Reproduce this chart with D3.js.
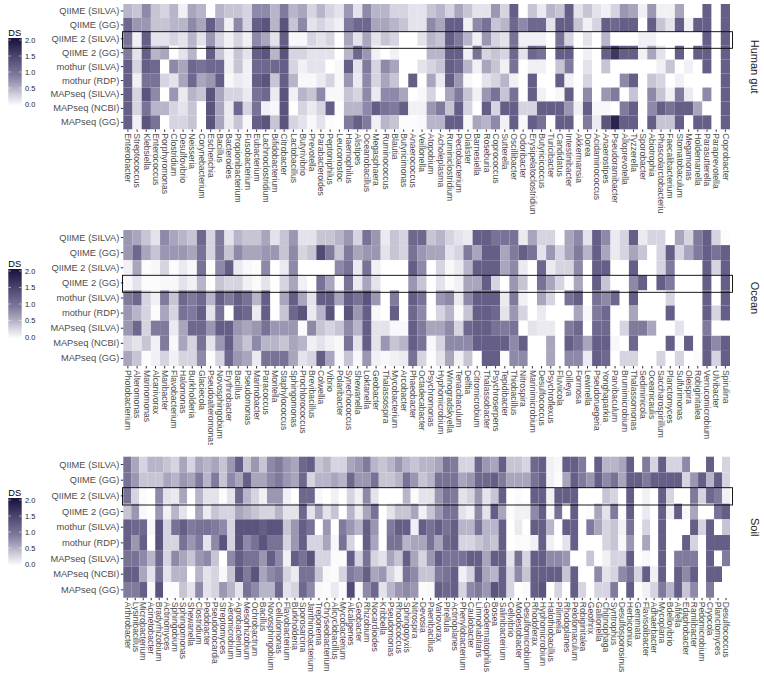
<!DOCTYPE html>
<html>
<head>
<meta charset="utf-8">
<script src="https://cdn.jsdelivr.net/npm/d3@7"></script>
<style>
  body { margin: 0; background: #fff; }
  text { font-family: "Liberation Sans", Arial, sans-serif; }
</style>
</head>
<body>
<svg id="chart" width="764" height="678"></svg>
<script>
const methods = ["QIIME (SILVA)", "QIIME (GG)", "QIIME 2 (SILVA)", "QIIME 2 (GG)", "mothur (SILVA)", "mothur (RDP)", "MAPseq (SILVA)", "MAPseq (NCBI)", "MAPseq (GG)"];
const legendTicks = [0, 0.5, 1, 1.5, 2];

const gutTaxa = ["Enterobacter","Streptococcus","Klebsiella","Enterococcus","Porphyromonas","Clostridium","Desulfovibrio","Neisseria","Corynebacterium","Escherichia","Bacillus","Bacteroides","Propionibacterium","Fusobacterium","Eubacterium","Lachnoclostridium","Bifidobacterium","Citrobacter","Lactobacillus","Butyrivibrio","Prevotella","Parabacteroides","Peptoniphilus","Leuconostoc","Haemophilus","Alistipes","Oceanobacillus","Megasphaera","Ruminococcus","Blautia","Butyricimonas","Anaerococcus","Veillonella","Atopobium","Acholeplasma","Ruminiclostridium","Pectobacterium","Dialister","Barnesiella","Roseburia","Coprococcus","Sutterella","Oscillibacter","Odoribacter","Erysipelatoclostridium","Butyricicoccus","Turicibacter","Candidatus","Intestinibacter","Akkermansia","Dorea","Acidaminococcus","Anaerostipes","Pseudoramibacter","Alloprevotella","Tyzzerella","Sporobacter","Abiotrophia","Phascolarctobacterium","Faecalibacterium","Stomatobaculum","Megamonas","Holdemanella","Parasutterella","Paraprevotella","Coprobacter"];
const oceanTaxa = ["Photobacterium","Alteromonas","Marinomonas","Alcanivorax","Maribacter","Flavobacterium","Halomonas","Burkholderia","Glaciecola","Pseudoalteromonas","Novosphingobium","Erythrobacter","Bacillus","Pseudomonas","Marinobacter","Paracoccus","Moritella","Staphylococcus","Sphingomonas","Prochlorococcus","Brevibacillus","Colwellia","Vibrio","Polaribacter","Synechococcus","Shewanella","Loktanella","Geobacter","Thalassospira","Mycobacterium","Arcobacter","Phaeobacter","Octadecabacter","Psychromonas","Hyphomicrobium","Winogradskyella","Tenacibaculum","Delftia","Citromicrobium","Thalassobacter","Psychroserpens","Tepidibacter","Thiobacillus","Nitrospira","Marinimicrobium","Desulfococcus","Psychroflexus","Fluviicola","Oilleya","Formosa","Lewinella","Pseudoruegeria","Yonghaparkia","Parvibaculum","Brumimicrobium","Thalassomonas","Sediminicola","Oceanicaulis","Saccharospirillum","Planctomyces","Sulfurimonas","Oleispira","Robiginitalea","Verrucomicrobium","Ulvibacter","Spirulina"];
const soilTaxa = ["Arthrobacter","Lysinibacillus","Microbacterium","Acinetobacter","Bradyrhizobium","Actinomyces","Sphingobium","Sphingomonas","Shewanella","Clostridium","Pedobacter","Pseudonocardia","Streptomyces","Aeromicrobium","Agrobacterium","Mesorhizobium","Ochrobactrum","Bacillus","Novosphingobium","Cellulomonas","Flavobacterium","Burkholderia","Sporosarcina","Janthinobacterium","Treponema","Chryseobacterium","Alicyclobacillus","Mycobacterium","Alcaligenes","Geobacter","Rhizobium","Nocardioides","Kribbella","Pseudomonas","Rhodococcus","Sphingopyxis","Nitrospira","Devosia","Paenibacillus","Variovorax","Pirellula","Actinoplanes","Phenylobacterium","Caulobacter","Limnohabitans","Geodermatophilus","Bosea","Salinibacterium","Cellvibrio","Modestobacter","Desulfomicrobium","Rhodoferax","Hyphomicrobium","Halothiobacillus","Pilimelia","Rhodoplanes","Pelotomaculum","Robiginitalea","Geothrix","Gallionella","Chitinophaga","Syntrophus","Desulfosporosinus","Herbiconiux","Gemmata","Flavisolibacter","Adhaerbacter","Mycoplana","Bdellovibrio","Afifella","Edaphobacter","Ramlibacter","Pedomicrobium","Cryocola","Planctomyces","Desulfococcus"];

// one row per method, same order as methods
const gutValues = [
[.5,.4,.8,.4,.3,.5,.1,.6,.5,0,.5,.4,.4,.3,.8,.8,.5,.9,.5,.6,.3,.5,.3,.2,.7,.2,.8,.5,.5,.3,.3,.2,.2,.4,.5,.3,.6,.4,.2,.2,.7,.3,1.2,0,.4,.15,.5,.4,1.2,.2,.4,.2,.1,.3,.7,.6,.1,.7,.1,.1,.6,0,0,1.2,0,1.2],
[1.1,.7,.7,.4,.4,.5,.5,.8,.6,1.2,.7,.1,.8,.3,1.2,1.3,.5,1.3,.4,.8,.2,.3,.2,.1,.9,1.1,1.1,.6,.6,.5,.4,.2,.2,.8,.6,1.2,1.2,.1,.8,1,.4,.5,1.1,.8,1.1,1.1,.2,1.2,1.2,.4,.1,.3,1.2,1.1,1.2,1.2,0,1.2,.4,.2,1.2,.1,1.2,1.2,0,1.2],
[1,.1,1.2,.2,.2,.3,.2,.5,.2,.7,.3,.1,.3,.1,.8,.6,.2,1.2,.05,.05,.3,.2,.3,0,.6,.2,.6,.2,.4,.3,0,0,.2,.5,.4,1.2,.9,.5,.1,.7,.3,.2,1,.1,.1,.1,0,1,.3,0,.2,0,.5,0,0,0,.1,.1,0,0,0,0,0,1.2,0,1.2],
[.9,.2,1.2,.5,.6,0,.2,.5,0,1.2,.4,.1,.4,.2,1.2,1.3,.5,1.3,.3,.3,.2,.2,.2,0,.5,1.1,.7,.1,0,.1,0,0,0,.5,.5,1.2,1.2,.1,1,.3,.4,.3,1.1,.2,1.1,1,0,1.2,1.2,0,.1,0,1.2,1.6,1.2,1.2,.1,.6,.2,0,1.2,0,1.2,1.2,0,1.2],
[1.2,.3,1.2,1.1,0,.8,.6,1.1,1,1.1,1.1,.1,.4,.1,1.1,1.1,1.1,1.2,.3,.1,.2,.2,0,.05,1.2,.2,.9,.3,.8,.6,0,0,.2,.3,.4,1.2,1.1,.5,.1,.6,.4,.1,1,0,.1,.1,0,.4,.9,0,.2,0,.4,0,0,0,0,0,.1,.4,0,.1,0,1.2,0,1.2],
[1.2,.1,1,1,.3,.2,.6,1.1,.6,.7,1.2,.05,.15,.1,1.2,1.3,.4,1.2,.5,.05,.05,.15,.3,.05,.7,.15,.8,.3,.6,.4,0,1.2,0,.6,.15,1.2,.7,.05,0,.2,.3,.5,.1,0,1.2,0,0,1.2,.1,0,.3,0,0,0,.8,1.2,0,.4,.3,0,.1,0,0,0,0,1.2],
[1.2,.3,1.3,.8,0,.7,.15,.5,.4,1.3,.6,.3,.3,.15,1,1.1,.15,1.3,.1,.5,.4,.8,.05,.05,.4,.3,.8,.15,.8,.8,.6,0,.05,.3,0,.6,.9,.4,.1,.7,1,.4,1,0,1.2,.1,0,.05,1.2,0,.8,0,.7,.9,0,.4,0,.8,.4,.1,.9,.15,0,.8,0,1.2],
[1.2,.3,1,.5,.5,.3,.2,.4,0,1.3,.6,.15,1.1,.3,1,.1,.05,1.3,0,.3,.15,.3,1.2,.02,.5,.5,.8,1.2,1,.9,1.2,.1,.1,.7,.9,.4,1.2,.3,0,1.2,.3,1.2,1.2,.3,.3,1.2,1.2,1.2,.7,.1,1.2,.05,.05,0,.9,1.2,0,.8,1.2,1,1.2,1.2,.6,0,0,1.2],
[1.2,.1,1.3,1,0,.3,.3,.4,0,1.3,.6,.15,.4,.05,1.2,1.3,.4,1.3,.3,.2,.05,.2,.02,0,.9,1.2,.9,.1,.5,.4,.02,.02,.05,.5,.5,1.2,1.2,.05,.6,.5,.8,.1,1.2,.05,1.2,1,0,1.2,1.2,0,.9,.15,1.3,1.8,1.2,1.2,0,1.2,.4,.4,1.2,0,1.2,1.2,0,1.2]
];
const oceanValues = [
[.7,.6,.4,.2,.8,.6,.5,.4,1.1,.3,.9,.2,.5,.4,.4,.6,.2,.4,.7,.2,.2,.4,.4,.5,.7,.3,1,.7,.15,.4,.3,1.1,1.1,.4,.5,.3,.2,.15,1.2,1.2,1,1,1,.15,.6,.3,.3,.02,.6,.8,.2,1.2,.8,.15,.3,1.2,.15,.3,.3,0,.6,.3,.9,1.2,.3,.02],
[.7,1.1,.6,.4,.7,.7,.7,.6,1,.3,.9,.4,.8,.6,.6,.7,.7,.4,.8,.3,.4,1.4,.9,.4,.9,.6,.7,.7,.2,.4,.3,1,.7,.6,.6,.2,.3,.9,.6,1.2,1.2,.6,.9,1.2,1,.2,.7,.3,.6,.9,.5,1.2,.6,.15,.3,.6,.4,0,.3,1.2,.3,.6,.9,1.2,1,1.2],
[.1,.6,.02,.05,.3,.02,.15,.05,1,.02,.8,1.2,.15,.05,.02,.8,0,.15,.8,0,0,0,0,.8,1,.15,1,.1,0,0,0,1.2,.8,0,.3,.05,.15,.5,1.2,1.2,1.2,.6,.8,.15,0,1.1,.15,.3,.3,.8,0,1.2,1.2,0,0,1.2,0,0,.3,.9,0,0,0,1.2,.3,1.2],
[.05,.2,.02,.02,.05,.05,.2,.1,.5,0,.4,.3,.3,.1,.03,.2,0,.3,.6,.1,0,1,.6,.03,1,.15,.6,.2,0,0,0,.7,.4,0,.2,.03,.1,.6,.6,1.2,.3,0,.7,.4,0,1,.6,.3,.03,.6,0,1.2,.4,0,0,.8,1.2,0,1.2,.9,0,0,0,1.2,0,1.2],
[.9,1.1,.3,.1,.9,.4,1.1,.9,1.1,.5,1.2,.9,1.2,1,.5,1.2,0,.6,1.2,.6,.2,1.2,1.2,.6,1.2,1,1.3,.7,0,.9,0,1.2,1,0,.7,.8,.15,.8,1.2,1.2,1.2,.15,.9,.1,0,.6,.3,0,1,1.2,0,1,.8,1.1,0,1.2,0,0,0,.3,0,0,0,1.2,0,1.2],
[.7,.5,.3,.02,.6,.3,1,.9,1.2,.2,1,0,1.2,1.1,.15,1.2,0,.4,1.1,1.3,.15,.5,1.3,0,1.3,.7,1.2,.05,0,1.2,0,1.1,.8,0,.3,.5,.03,.4,1.2,1.2,1.1,.2,.7,.3,0,.15,0,0,0,.6,.05,.9,1.1,0,0,.6,0,0,0,1.2,0,0,0,1.2,.3,1.2],
[.7,1.1,.3,.9,.9,.15,.6,1.1,1.1,.7,1.2,1.2,.7,.6,.7,1,.7,.7,.7,.03,.8,.4,.3,.4,.8,.5,1.2,.2,.2,.05,.05,1.2,.9,.6,.6,.8,.3,1.1,1.2,1.2,1,.9,1,0,.2,.15,.15,0,.9,1.1,0,1.1,1.1,0,.3,.9,.9,.6,0,0,.2,0,0,.9,0,0],
[.3,.2,.4,.1,.9,.05,.6,.3,1,.2,.7,1.2,.6,.4,.8,.5,.5,.4,.6,.5,.1,.2,.1,.05,1,.2,1.2,.2,.7,.4,.5,1.2,1,.05,.3,.8,.8,.8,1.2,1.2,1.2,1.2,.8,1.2,0,0,.6,0,1.2,1,.6,1.2,1.2,.05,0,1.1,0,0,0,1.2,.02,1.2,0,1.2,.8,1.2],
[.6,.4,.02,.1,.3,.1,.3,.3,.8,.02,.3,1.1,.7,.6,.15,1,1,1,.6,.2,.3,1.2,.6,.05,.4,.05,.7,.1,.05,.1,.15,1,.3,.02,.2,.6,.1,.4,0,1.2,1.2,.02,.8,.8,0,0,.6,0,.8,.8,.15,1.2,1.1,0,.3,.3,0,0,.3,0,.3,0,.03,1.2,.3,1.2]
];
const soilValues = [
[1,.6,.3,.5,.5,.4,.3,.6,.3,.6,.5,.6,.4,.7,1.2,.4,.7,.4,.8,.9,.7,.6,1.1,1.2,.4,.5,.3,.3,.6,.7,.9,.5,.4,.5,.7,.5,.4,.5,.5,.6,1,.9,.3,.3,1.1,.7,.6,1.2,.4,.4,.3,1.1,1.2,.1,.05,1.2,1.2,.9,0,1.2,.5,.5,.6,1.2,0,.9,.3,1.2,.3,.3,.8,0,0,1.2,0,.3],
[1,.7,.4,.4,.4,.6,.5,.7,.6,.9,.5,.9,.4,.8,.6,1.2,.6,.6,.8,.9,.7,.6,1.1,.3,.5,.5,.6,.5,1.1,.7,.7,1,.4,.4,.5,1,.7,.4,.5,1,1,1,.6,.7,1.1,1.1,1.2,.9,.6,.6,.6,1,1.2,.1,.02,.6,1.2,.9,.7,1.2,.8,1,.6,1.2,1.2,.9,1.2,1.2,1.2,1.2,.3,.7,1.2,.5,1.2,.3],
[1,.3,.03,0,.8,.2,.15,.6,0,.5,.2,.2,.02,.2,1.1,.5,.3,.1,.7,.7,.1,0,1.1,1.1,.05,0,.1,0,.3,.1,.8,.2,0,0,0,.5,.03,.2,.2,.7,1,.9,.2,.3,.7,.2,.4,1.2,0,.03,0,1.2,1.2,.1,1.2,1.2,1.2,0,0,0,.4,.3,0,1.2,0,.1,0,1.2,.3,0,0,.9,.3,1.1,.9,.1],
[.4,.7,.05,0,.7,.1,.5,.2,0,.6,.15,.4,.3,.3,.6,.5,.4,.3,.3,.5,.2,.2,1.1,.2,.6,.2,.4,0,.5,.15,.6,1,0,.2,.4,.4,.6,.1,.4,.7,1,1,.2,.1,.8,.2,1.2,.6,.03,.1,.1,.8,1.2,.05,1,0,1.2,0,.03,.6,.2,.9,.03,1.2,0,.15,0,1.2,.1,1.2,.05,.6,0,0,1,1.2],
[1.2,1.1,1.1,.05,1.3,.3,1,1.2,.9,1,1,.9,.8,.3,1.3,1.3,1.3,1.2,1.3,1.3,.4,.7,1.2,1,0,.7,0,.9,.7,.5,1.2,.7,0,.9,1.2,1.2,.1,1.2,1,1.2,1,1.2,.5,.5,1,.5,.5,1.2,0,.15,0,1.2,1.2,.5,0,1.2,1.2,0,.9,.6,.3,.4,.1,1,0,.3,0,1.2,0,0,0,1.2,.3,1.2,0,.4],
[1.2,.7,1.2,0,1.3,.3,.3,1,.7,.9,.2,.8,1.3,.3,1.3,.8,1,1.3,1,1,.3,.7,1.2,.3,.3,.6,.05,1,.3,0,1.2,.6,0,1,1,.5,.6,.6,1,.6,1.1,1.2,.3,.3,.4,.5,.4,1.2,0,.03,.03,.1,1.2,.1,0,.2,1.2,0,0,0,.3,.4,.05,.7,0,.6,0,1.2,0,0,1.2,.3,0,1.2,1.2,1.2],
[1,1,.8,.5,1.1,.3,.8,.6,.4,.7,.8,.4,0,.8,1.2,1,1,.7,1.2,.8,.1,1.2,1,1.3,.3,.3,.03,.03,1.2,.3,1,.3,.2,.6,.4,1.2,.6,.3,.7,1.2,1,1,1,1.2,1.2,.6,1.2,1.2,.2,1,.3,1.2,1.2,.8,.8,.7,0,0,.4,0,.1,.3,.3,1.2,0,.05,0,1.2,0,.9,.9,.9,0,1.2,0,.9],
[1.2,1.2,.6,.2,1,.2,.5,.5,0,.5,.2,.3,.05,.4,1.3,.9,1.3,.6,.8,.9,.3,.15,1,1,.4,.05,.03,.3,.9,.8,1.2,.6,.7,.3,.1,1,.8,.4,.4,.9,1,1.2,.1,.3,1.2,.6,.5,1.2,.3,.8,.4,1.2,1.2,1.2,1.2,.4,1.2,0,0,.8,.2,.3,.8,1,.3,1.2,.1,1.2,0,1.2,.8,1.2,0,1.2,1.2,0],
[.9,.9,1.2,.05,1.3,.03,.02,.4,.2,.8,.2,.3,.7,.5,.2,1,.8,.5,.5,1.1,.2,.3,1.1,.8,.05,.03,.15,.03,1.4,.05,.8,1.1,.2,.5,.7,.8,.7,.03,.05,1.2,1.1,1.2,.3,.8,.9,.7,1.3,1.2,.3,0,.03,1.2,1.3,0,.3,0,1.2,.3,0,.3,.3,.9,0,1.2,0,.1,.3,.9,.5,1.2,.4,.8,0,.9,0,0]
];

const gutPanel = { name: "Human gut", taxa: gutTaxa, values: gutValues, top: 4, bottom: 129.3, clipTo: 214, box: [31.7, 48.3], legendTop: 40, legendBottom: 104, titleY: 36 };
const oceanPanel = { name: "Ocean", taxa: oceanTaxa, values: oceanValues, top: 230, bottom: 366, clipTo: 445, box: [275.3, 292.3], legendTop: 271, legendBottom: 337, titleY: 267 };
const soilPanel = { name: "Soil", taxa: soilTaxa, values: soilValues, top: 456.7, bottom: 597.7, clipTo: 678, box: [487.7, 505], legendTop: 500, legendBottom: 564, titleY: 496 };

const left = 123.3;
const right = 730;
const boxRight = 732.5;
const stripX = 755;

const colorStops = [0, 0.3, 0.6, 0.9, 1.2, 2];
const colorRange = ["#ffffff", "#d6d4e0", "#a8a5bd", "#807b9d", "#655f87", "#16113d"];
const color = d3.scaleLinear().domain(colorStops).range(colorRange);

const svg = d3.select("#chart");

function drawPanel(panel, idx) {
    const g = svg.append("g").attr("class", "panel");
    const x = d3.scaleBand().domain(panel.taxa).range([left, right]);
    const y = d3.scaleBand().domain(methods).range([panel.top, panel.bottom]);

    methods.forEach((m, r) => {
        g.selectAll("rect.r" + r)
            .data(panel.taxa.map((t, c) => ({ t: t, v: panel.values[r][c] })))
            .enter()
            .append("rect")
            .attr("class", "r" + r)
            .attr("x", d => x(d.t))
            .attr("y", y(m))
            .attr("width", x.bandwidth())
            .attr("height", y.bandwidth())
            .attr("fill", d => color(d.v));
    });

    const yAxis = g.append("g")
        .attr("transform", `translate(${left},0)`)
        .call(d3.axisLeft(y).tickSize(2.5).tickPadding(1.5));
    yAxis.select(".domain").remove();
    yAxis.selectAll("line").attr("stroke", "#333");
    yAxis.selectAll("text").attr("font-size", 9.3).attr("fill", "#4d4d4d").attr("font-family", "Liberation Sans");

    d3.select("svg").append("clipPath").attr("id", "clip" + idx)
        .append("rect").attr("x", 0).attr("y", panel.bottom).attr("width", 764).attr("height", panel.clipTo - panel.bottom);

    const xAxis = g.append("g")
        .attr("clip-path", `url(#clip${idx})`)
        .append("g")
        .attr("transform", `translate(0,${panel.bottom})`)
        .call(d3.axisBottom(x).tickSize(2.5).tickPadding(1.5));
    xAxis.select(".domain").remove();
    xAxis.selectAll("line").attr("stroke", "#333");
    xAxis.selectAll("text")
        .attr("font-size", 8.6)
        .attr("fill", "#4d4d4d")
        .attr("font-family", "Liberation Sans")
        .attr("text-anchor", "start")
        .attr("dy", "0.32em")
        .attr("transform", "translate(0,4) rotate(90)")
        .attr("x", 0)
        .attr("y", 0);

    g.append("rect")
        .attr("x", left - 0.8)
        .attr("y", panel.box[0])
        .attr("width", boxRight - left + 0.8)
        .attr("height", panel.box[1] - panel.box[0])
        .attr("fill", "none")
        .attr("stroke", "#000")
        .attr("stroke-width", 0.9);

    g.append("text")
        .attr("transform", `translate(${stripX},${(panel.top + panel.bottom) / 2}) rotate(90)`)
        .attr("text-anchor", "middle")
        .attr("dy", "0.35em")
        .attr("font-size", 11)
        .attr("fill", "#1a1a1a")
        .text(panel.name);

    drawLegend(panel, idx);
}

function drawLegend(panel, idx) {
    const g = svg.append("g").attr("class", "legend");
    const barX = 8.3;
    const barW = 13.4;
    const s = d3.scaleLinear().domain([0, 2]).range([panel.legendBottom, panel.legendTop]);

    const grad = svg.append("defs").append("linearGradient")
        .attr("id", "grad" + idx)
        .attr("x1", 0).attr("x2", 0).attr("y1", 1).attr("y2", 0);
    colorStops.forEach((v, i) => {
        grad.append("stop")
            .attr("offset", v / 2)
            .attr("stop-color", colorRange[i]);
    });

    g.append("rect")
        .attr("x", barX)
        .attr("y", s(2) - 2)
        .attr("width", barW)
        .attr("height", s(0) - s(2) + 4)
        .attr("fill", `url(#grad${idx})`);

    legendTicks.forEach(t => {
        g.append("line").attr("x1", barX).attr("x2", barX + 2.7).attr("y1", s(t)).attr("y2", s(t)).attr("stroke", "#fff").attr("stroke-width", 0.5);
        g.append("line").attr("x1", barX + barW - 2.7).attr("x2", barX + barW).attr("y1", s(t)).attr("y2", s(t)).attr("stroke", "#fff").attr("stroke-width", 0.5);
        g.append("text")
            .attr("x", 25)
            .attr("y", s(t))
            .attr("dy", "0.35em")
            .attr("font-size", 7.4)
            .attr("fill", "#1a1a1a")
            .text(d3.format(".1f")(t));
    });

    g.append("text")
        .attr("x", 8.3)
        .attr("y", panel.titleY)
        .attr("font-size", 9.3)
        .attr("fill", "#000")
        .text("DS");
}

[gutPanel, oceanPanel, soilPanel].forEach(drawPanel);
</script>
</body>
</html>
